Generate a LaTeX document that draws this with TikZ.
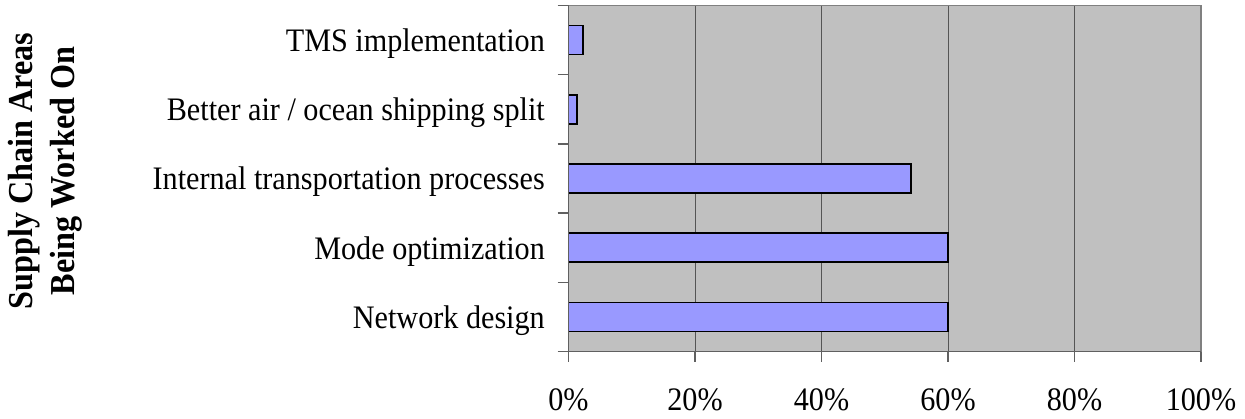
\documentclass[tikz,border=0pt]{standalone}
\usepackage{fontspec}
\setmainfont[FakeStretch=0.92]{Liberation Serif}
\definecolor{plotbg}{HTML}{C0C0C0}
\definecolor{barfill}{HTML}{9999FF}
\definecolor{gridc}{HTML}{555555}
\definecolor{axisc}{HTML}{606060}
\definecolor{framec}{HTML}{808080}
\begin{document}
\begin{tikzpicture}[x=1pt,y=1pt,
  catlabel/.style={anchor=base east,inner sep=0pt,font=\fontsize{32.8}{38}\selectfont},
  ticklabel/.style={anchor=base,inner sep=0pt,font=\fontsize{32.8}{38}\selectfont},
  barbox/.style={fill=barfill,draw=black,line width=1.7pt},
  gridline/.style={draw=gridc,line width=1pt},
  axisline/.style={draw=axisc,line width=1.4pt},
  tickline/.style={draw=axisc,line width=1.3pt}]
\useasboundingbox (0,0) rectangle (1245,418);
% plot area
\coordinate (pSW) at (568.5,66.5);
\coordinate (pNE) at (1201,412.5);
\fill[plotbg] (pSW) rectangle (pNE);
% grid lines
\foreach \p in {20,40,60,80}{
  \draw[gridline] (568.5+6.325*\p,66.5) -- (568.5+6.325*\p,412.5);
}
% frame top/right
\draw[draw=framec,line width=1.3pt] (568.5,412.5) -- (1201,412.5) -- (1201,66.5);
% bars
\draw[barbox] (568.5,418-25.6) rectangle (583,418-54.6);
\draw[barbox] (568.5,418-94.8) rectangle (576.7,418-123.8);
\draw[barbox] (568.5,418-164) rectangle (911,418-193);
\draw[barbox] (568.5,418-233.2) rectangle (948,418-262.2);
\draw[barbox] (568.5,418-302.4) rectangle (948,418-331.4);
% axes
\draw[axisline] (568.5,412.5) -- (568.5,66.5) -- (1201,66.5);
% left ticks
\foreach \i in {0,...,5}{
  \draw[tickline] (557.5,412.5-69.2*\i) -- (568.5,412.5-69.2*\i);
}
% bottom ticks
\foreach \p in {0,20,40,60,80,100}{
  \draw[tickline] (568.5+6.325*\p,66.5) -- (568.5+6.325*\p,56.5);
}
% category labels
\node[catlabel] (c1) at (545,418-51.6) {TMS implementation};
\node[catlabel] (c2) at (545,418-120.8) {Better air / ocean shipping split};
\node[catlabel] (c3) at (545,418-190) {Internal transportation processes};
\node[catlabel] (c4) at (545,418-259.2) {Mode optimization};
\node[catlabel] (c5) at (545,418-328.4) {Network design};
% tick labels
\node[ticklabel] (t0) at (568.5,8) {0\%};
\node[ticklabel] (t20) at (695,8) {20\%};
\node[ticklabel] (t40) at (821.5,8) {40\%};
\node[ticklabel] (t60) at (948,8) {60\%};
\node[ticklabel] (t80) at (1074.5,8) {80\%};
\node[ticklabel] (t100) at (1201,8) {100\%};
% axis title
\node[rotate=90,align=center,inner sep=0pt,font=\fontsize{35}{42}\selectfont\bfseries] (ytitle) at (45,418-171) {Supply Chain Areas\\Being Worked On};
\end{tikzpicture}
\end{document}
